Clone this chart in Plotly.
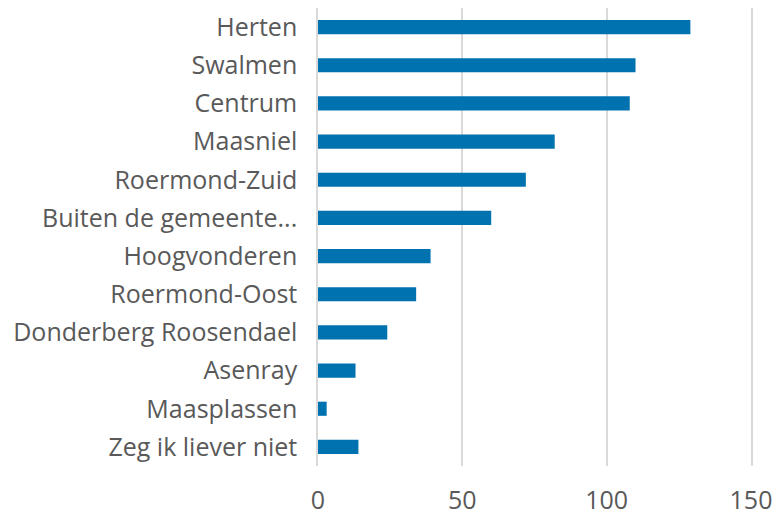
import plotly.graph_objects as go

categories = ["Herten", "Swalmen", "Centrum", "Maasniel", "Roermond-Zuid",
              "Buiten de gemeente...", "Hoogvonderen", "Roermond-Oost",
              "Donderberg Roosendael", "Asenray", "Maasplassen", "Zeg ik liever niet"]
values = [129, 110, 108, 82, 72, 60, 39, 34, 24, 13, 3, 14]
x_ticks = [0, 50, 100, 150]

fig = go.Figure(go.Bar(
    y=categories, x=values, orientation="h",
    marker=dict(color="#0072B0", line=dict(width=0)),
    width=0.37,
))

fig.update_layout(
    width=776, height=515,
    margin=dict(l=318, r=25, t=8, b=49),
    plot_bgcolor="white", paper_bgcolor="white",
    font=dict(family="Open Sans", size=25, color="#595959"),
    showlegend=False,
)
fig.update_xaxes(
    range=[0, 150], tickvals=x_ticks, showgrid=True, gridcolor="#D9D9D9",
    gridwidth=1.5, zeroline=False, showline=False, ticklabelstandoff=17,
    automargin=False, tickfont=dict(size=25, color="#595959"),
)
fig.update_yaxes(
    autorange="reversed", showgrid=False, showline=True, linecolor="#D9D9D9",
    linewidth=1.5, mirror=True, ticklabelstandoff=14, automargin=False,
    tickfont=dict(size=25, color="#595959"),
)

fig.write_html(
    "out.html",
    config={"displayModeBar": False},
    post_script="document.body.style.margin='0';document.body.style.overflow='hidden';",
)
